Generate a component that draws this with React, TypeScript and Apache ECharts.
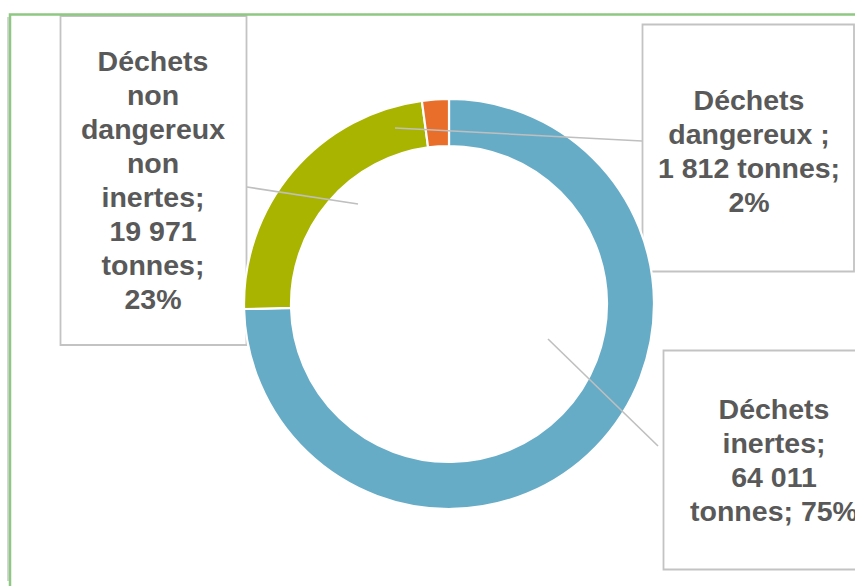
import React, { useEffect, useRef } from "react";
import * as echarts from "echarts";

// ---- data ----
const categories = ["Déchets inertes", "Déchets non dangereux non inertes", "Déchets dangereux"];
const tonnages = [64011, 19971, 1812];
// how each label is wrapped: [after name, between value and "tonnes;", between "tonnes;" and percent]
const labelJoins = [
  [";", "\n", " "],
  [";", "\n", "\n"],
  [" ;", " ", "\n"],
];

// ---- style / layout ----
const colors = ["#67ACC7", "#A9B400", "#E86E2A"];
const labelPos = [
  { x: 774, y: 460, line: [[548, 339], [658, 446]] },
  { x: 153, y: 180, line: [[358, 204], [247, 187]] },
  { x: 749, y: 151, line: [[395, 128], [642, 141]] },
];
const boxColor = "#C3C3C3";
const leaderColor = "#BFBFBF";

const fmt = (v: number) => String(v).replace(/\B(?=(\d{3})+(?!\d))/g, " ");

export default function App() {
  const ref = useRef<HTMLDivElement>(null);
  useEffect(() => {
    if (!ref.current) return;
    const chart = echarts.init(ref.current, null, { renderer: "svg" });
    const textStyle = {
      fontFamily: "'Liberation Sans', Arial, sans-serif",
      fontWeight: "bold" as const,
      fontSize: 28.5,
      lineHeight: 34,
      color: "#595959",
    };
    chart.setOption({
      animation: false,
      backgroundColor: "#ffffff",
      graphic: [
        { type: "line", shape: { x1: 8, y1: 17, x2: 8, y2: 581 }, style: { stroke: "#D6D6D6", lineWidth: 2 }, z: 0 },
        { type: "rect", shape: { x: 10, y: 14.5, width: 900, height: 620 }, style: { fill: "none", stroke: "#8FC883", lineWidth: 2.5 }, z: 1 },
        { type: "rect", shape: { x: 60.5, y: 16, width: 186, height: 329 }, style: { fill: "#fff", stroke: boxColor, lineWidth: 1.8 }, z: 0 },
        { type: "rect", shape: { x: 642.5, y: 24.5, width: 211.5, height: 247 }, style: { fill: "#fff", stroke: boxColor, lineWidth: 1.8 }, z: 0 },
        { type: "rect", shape: { x: 663.5, y: 350.5, width: 223, height: 219 }, style: { fill: "#fff", stroke: boxColor, lineWidth: 1.8 }, z: 0 },
        ...labelPos.map((lp) => ({
          type: "line",
          z: 20,
          shape: { x1: lp.line[0][0], y1: lp.line[0][1], x2: lp.line[1][0], y2: lp.line[1][1] },
          style: { stroke: leaderColor, lineWidth: 1.6 },
        })),
      ],
      series: [
        {
          type: "pie",
          center: [449, 304],
          radius: [158, 205],
          startAngle: 90,
          clockwise: true,
          silent: true,
          avoidLabelOverlap: false,
          z: 3,
          itemStyle: { borderColor: "#ffffff", borderWidth: 2.2 },
          emphasis: { disabled: true },
          label: {
            show: true,
            position: "outside",
            ...textStyle,
            formatter: (p: any) => {
              const j = labelJoins[p.dataIndex];
              const name = p.dataIndex === 2 ? p.name.replace(" ", "\n") : p.name.split(" ").join("\n");
              return `${name}${j[0]}\n${fmt(p.value)}${j[1]}tonnes;${j[2]}${Math.round(p.percent)}%`;
            },
          },
          labelLine: { show: false },
          labelLayout: (params: any) => {
            const lp = labelPos[params.dataIndex];
            return { x: lp.x, y: lp.y, align: "center", verticalAlign: "middle" };
          },
          data: categories.map((c, i) => ({ name: c, value: tonnages[i], itemStyle: { color: colors[i] } })),
        },
      ],
    });
    return () => chart.dispose();
  }, []);
  return <div ref={ref} style={{ position: "absolute", left: 0, top: 0, width: 855, height: 586 }} />;
}
